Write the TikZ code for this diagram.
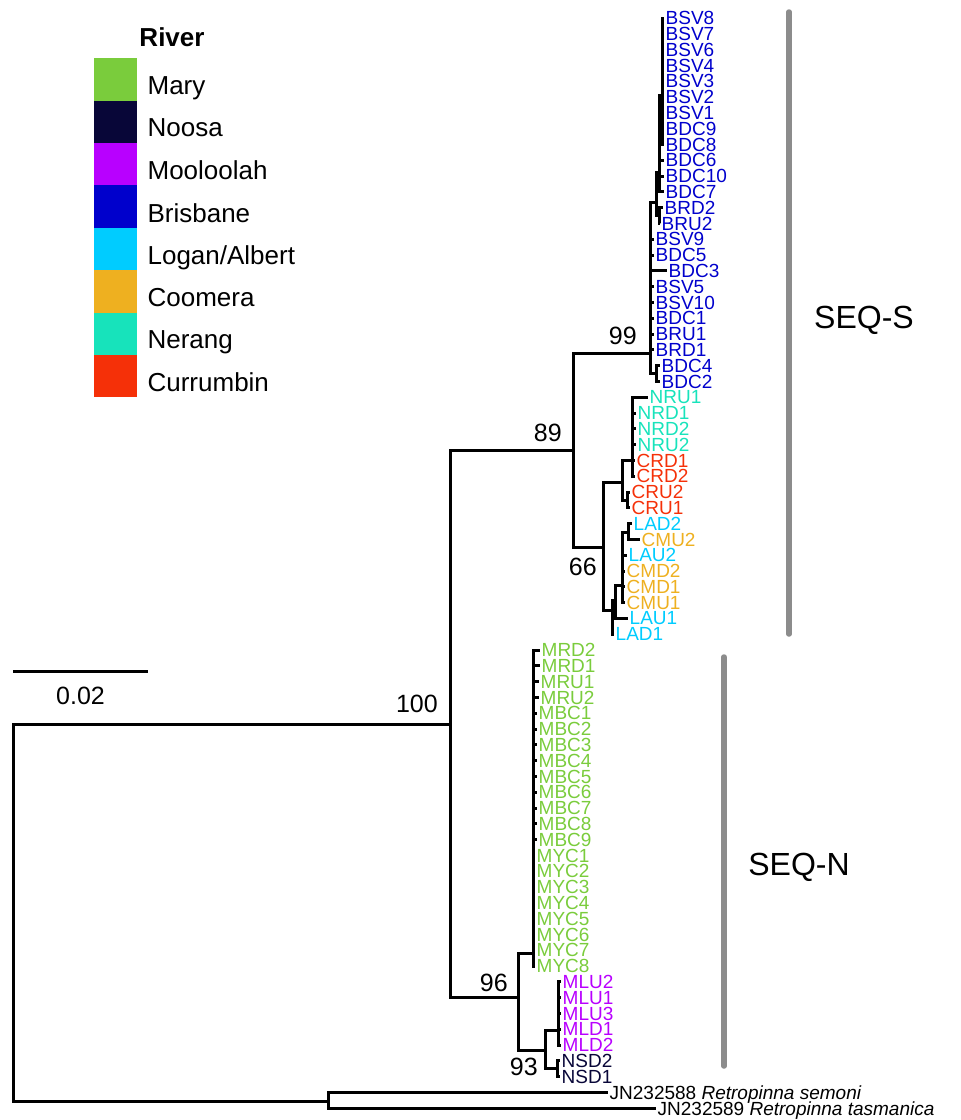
\documentclass[tikz,border=0pt]{standalone}
\usepackage{fontspec}
\setmainfont{Liberation Sans}
\usetikzlibrary{positioning,calc}
\definecolor{mary}{RGB}{122,204,60}
\definecolor{noosa}{RGB}{8,6,56}
\definecolor{mool}{RGB}{184,0,255}
\definecolor{bris}{RGB}{0,0,204}
\definecolor{logan}{RGB}{0,204,255}
\definecolor{coom}{RGB}{238,176,32}
\definecolor{nerang}{RGB}{23,227,187}
\definecolor{curr}{RGB}{245,48,8}
\definecolor{grpbar}{RGB}{140,140,140}
% tip at (x, row) with its coloured label
\newcommand\tiplabel[4]{\coordinate (#1) at (#2,{18+15.8*#3});\node[tip,text=#4] (#1l) at (#1) {#1};}

\begin{document}
\begin{tikzpicture}[x=1pt,y=-1pt,
  br/.style={line width=3pt},
  tip/.style={anchor=west,inner xsep=1.5pt,inner ysep=0pt,text depth=0pt,font=\fontsize{19}{19}\selectfont},
  boot/.style={inner sep=0pt,font=\fontsize{25}{25}\selectfont},
  keylab/.style={inner sep=0pt,text depth=0pt,font=\fontsize{26}{26}\selectfont},
  grp/.style={line width=5.5pt,color=grpbar,line cap=round},
  keybox/.style={inner sep=0pt,minimum width=43pt,minimum height=42.4pt,anchor=north west}]
  \useasboundingbox (0,0) rectangle (961,1120);
  % internal nodes
  \coordinate (R) at (13,910);
  \coordinate (N100) at (450,724);
  \coordinate (N89) at (573,450);
  \coordinate (N99) at (650,353);
  \coordinate (Btop) at (656,202);
  \coordinate (Bmid) at (659,172);
  \coordinate (Bsv) at (662,95);
  \coordinate (BR2) at (659,215);
  \coordinate (B42) at (656,373);
  \coordinate (N66) at (603,547);
  \coordinate (NC) at (622,482);
  \coordinate (NR) at (632,460);
  \coordinate (CRU) at (627,500);
  \coordinate (LC) at (612,610);
  \coordinate (LC2) at (615,600);
  \coordinate (LC3) at (622,585);
  \coordinate (LC4) at (628,532);
  \coordinate (N96) at (518,997);
  \coordinate (Mry) at (533,953);
  \coordinate (MN) at (545,1050);
  \coordinate (ML) at (558,1030);
  \coordinate (NS) at (557,1068);
  \coordinate (OG) at (328,1101);

  % Brisbane
  \foreach \n/\x/\i in {BSV8/664/0,BSV7/664/1,BSV6/664/2,BSV4/664/3,BSV3/664/4,BSV2/664/5,BSV1/664/6,BDC9/664/7,BDC8/664/8}
    {\tiplabel{\n}{\x}{\i}{bris} \draw[br] (Bsv) |- (\n);}
  \foreach \n/\x/\i in {BDC6/664/9,BDC10/664/10,BDC7/664/11}
    {\tiplabel{\n}{\x}{\i}{bris} \draw[br] (Bmid) |- (\n);}
  \draw[br] (Bmid) |- (Bsv);
  \foreach \n/\x/\i in {BRD2/663/12,BRU2/660/13}
    {\tiplabel{\n}{\x}{\i}{bris} \draw[br] (BR2) |- (\n);}
  \draw[br] (Btop) |- (Bmid); \draw[br] (Btop) |- (BR2);
  \foreach \n/\x/\i in {BSV9/654/14,BDC5/654/15,BDC3/667/16,BSV5/654/17,BSV10/654/18,BDC1/654/19,BRU1/654/20,BRD1/654/21}
    {\tiplabel{\n}{\x}{\i}{bris} \draw[br] (N99) |- (\n);}
  \foreach \n/\x/\i in {BDC4/660/22,BDC2/660/23}
    {\tiplabel{\n}{\x}{\i}{bris} \draw[br] (B42) |- (\n);}
  \draw[br] (N99) |- (Btop); \draw[br] (N99) |- (B42);

  % Nerang, Currumbin
  \foreach \n/\x/\i/\c in {NRU1/648/24/nerang,NRD1/636/25/nerang,NRD2/636/26/nerang,NRU2/636/27/nerang,CRD1/635/28/curr,CRD2/635/29/curr}
    {\tiplabel{\n}{\x}{\i}{\c} \draw[br] (NR) |- (\n);}
  \foreach \n/\x/\i in {CRU2/630/30,CRU1/630/31}
    {\tiplabel{\n}{\x}{\i}{curr} \draw[br] (CRU) |- (\n);}
  \draw[br] (NC) |- (NR); \draw[br] (NC) |- (CRU);

  % Logan/Albert, Coomera
  \foreach \n/\x/\i/\c in {LAD2/632/32/logan,CMU2/640/33/coom}
    {\tiplabel{\n}{\x}{\i}{\c} \draw[br] (LC4) |- (\n);}
  \foreach \n/\x/\i/\c in {LAU2/627/34/logan,CMD2/625/35/coom,CMD1/625/36/coom,CMU1/625/37/coom}
    {\tiplabel{\n}{\x}{\i}{\c} \draw[br] (LC3) |- (\n);}
  \draw[br] (LC3) |- (LC4);
  \tiplabel{LAU1}{628}{38}{logan} \draw[br] (LC2) |- (LAU1); \draw[br] (LC2) |- (LC3);
  \tiplabel{LAD1}{614}{39}{logan} \draw[br] (LC) |- (LAD1); \draw[br] (LC) |- (LC2);
  \draw[br] (N66) |- (NC); \draw[br] (N66) |- (LC);
  \draw[br] (N89) |- (N99); \draw[br] (N89) |- (N66);

  % Mary
  \foreach \n/\x/\i in {MRD2/540/40,MRD1/540/41,MRU1/539/42,MRU2/539/43,MBC1/537/44,MBC2/537/45,MBC3/537/46,MBC4/537/47,MBC5/537/48,MBC6/537/49,MBC7/537/50,MBC8/537/51,MBC9/537/52,MYC1/535/53,MYC2/535/54,MYC3/535/55,MYC4/535/56,MYC5/535/57,MYC6/535/58,MYC7/535/59,MYC8/535/60}
    {\tiplabel{\n}{\x}{\i}{mary} \draw[br] (Mry) |- (\n);}

  % Mooloolah, Noosa
  \foreach \n/\i in {MLU2/61,MLU1/62,MLU3/63,MLD1/64,MLD2/65}
    {\tiplabel{\n}{561}{\i}{mool} \draw[br] (ML) |- (\n);}
  \foreach \n/\i in {NSD2/66,NSD1/67}
    {\tiplabel{\n}{560}{\i}{noosa} \draw[br] (NS) |- (\n);}
  \draw[br] (MN) |- (ML); \draw[br] (MN) |- (NS);
  \draw[br] (N96) |- (Mry); \draw[br] (N96) |- (MN);
  \draw[br] (N100) |- (N89); \draw[br] (N100) |- (N96);

  % outgroup
  \coordinate (JN1) at (608,{18+15.8*68});
  \coordinate (JN2) at (656,{18+15.8*69});
  \node[tip] (JN1l) at (JN1) {JN232588 \textit{Retropinna semoni}};
  \node[tip] (JN2l) at (JN2) {JN232589 \textit{Retropinna tasmanica}};
  \draw[br] (OG) |- (JN1); \draw[br] (OG) |- (JN2);
  \draw[br] (R) |- (N100); \draw[br] (R) |- (OG);

  % bootstrap values
  \node[boot,above left=8pt and 13pt of N99] (b99) {99};
  \node[boot,above left=8pt and 11pt of N89] (b89) {89};
  \node[boot,above left=11pt and 12pt of N100] (b100) {100};
  \node[boot,below left=11pt and 6pt of N66] (b66) {66};
  \node[boot,above left=5pt and 10pt of N96] (b96) {96};
  \node[boot,below left=8pt and 7pt of MN] (b93) {93};

  % scale bar
  \coordinate (s0) at (13,671);
  \coordinate (s1) at (148,671);
  \draw[br] (s0) -- (s1);
  \node[boot,below=16pt of {$(s0)!.5!(s1)$}] (scl) {0.02};

  % groups
  \coordinate (gS0) at (789,12); \coordinate (gS1) at (789,634);
  \coordinate (gN0) at (724,657); \coordinate (gN1) at (724,1066);
  \draw[grp] (gS0) -- (gS1);
  \draw[grp] (gN0) -- (gN1);
  \node[font=\fontsize{32}{32}\selectfont] (seqS) at (864,320) {SEQ-S};
  \node[font=\fontsize{32}{32}\selectfont] (seqN) at (799,867) {SEQ-N};

  % legend
  \node[font=\bfseries\fontsize{26}{26}\selectfont] (river) at (172,37) {River};
  \foreach \c/\t [count=\k from 0] in {mary/Mary,noosa/Noosa,mool/Mooloolah,bris/Brisbane,logan/Logan\slash Albert,coom/Coomera,nerang/Nerang,curr/Currumbin}
    {\node[keybox,fill=\c] (key\k) at (94,{58+42.4*\k}) {};
     \node[keylab,right=10pt of key\k,yshift=-6pt] (lab\k) {\t};}
\end{tikzpicture}
\end{document}
